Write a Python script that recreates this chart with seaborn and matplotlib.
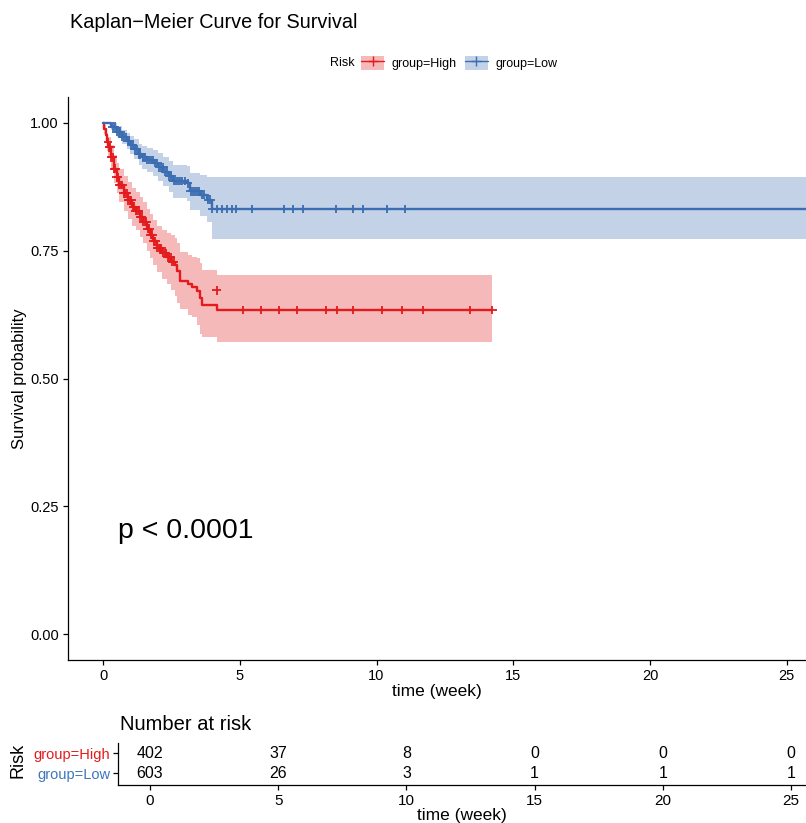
import numpy as np
import pandas as pd
import matplotlib
matplotlib.use("Agg")
import matplotlib.pyplot as plt
import seaborn as sns
from matplotlib.patches import Patch
from matplotlib.lines import Line2D

# ---------------- data ----------------
groups = ["group=High", "group=Low"]
line_colors = ["#E41A1C", "#3A6DB2"]
label_colors = ["#E41A1C", "#3F74BE"]

high_t = [0.0, 0.05, 0.1, 0.15, 0.2, 0.3, 0.4, 0.5, 0.6, 0.75, 0.9, 1.05, 1.2, 1.35, 1.47,
          1.6, 1.72, 1.84, 1.96, 2.15, 2.33, 2.5, 2.63, 2.72, 2.82, 3.12, 3.24, 3.42, 3.55,
          3.61, 4.15]
high_s = [1.0, 0.988, 0.975, 0.962, 0.952, 0.932, 0.91, 0.893, 0.878, 0.862, 0.848, 0.836,
          0.828, 0.816, 0.806, 0.793, 0.781, 0.768, 0.755, 0.745, 0.737, 0.728, 0.722, 0.710,
          0.690, 0.684, 0.678, 0.671, 0.658, 0.644, 0.634]
high_lo = [1.0, 0.978, 0.96, 0.945, 0.932, 0.908, 0.882, 0.862, 0.845, 0.828, 0.812, 0.798,
           0.79, 0.776, 0.764, 0.75, 0.735, 0.722, 0.708, 0.695, 0.685, 0.672, 0.661, 0.648,
           0.635, 0.625, 0.62, 0.605, 0.586, 0.582, 0.572]
high_hi = [1.0, 0.996, 0.99, 0.98, 0.972, 0.956, 0.936, 0.922, 0.91, 0.895, 0.883, 0.872,
           0.865, 0.854, 0.845, 0.832, 0.822, 0.81, 0.798, 0.79, 0.785, 0.78, 0.775, 0.765,
           0.748, 0.742, 0.738, 0.735, 0.725, 0.712, 0.702]
high_end = 14.23

low_t = [0.0, 0.3, 0.5, 0.7, 0.87, 1.0, 1.15, 1.3, 1.41, 1.6, 1.84, 2.0, 2.21, 2.4, 2.57,
         3.06, 3.18, 3.55, 3.79, 3.97]
low_s = [1.0, 0.992, 0.982, 0.972, 0.964, 0.956, 0.948, 0.938, 0.932, 0.927, 0.921, 0.913,
         0.904, 0.895, 0.886, 0.881, 0.866, 0.859, 0.849, 0.831]
low_lo = [1.0, 0.985, 0.972, 0.959, 0.949, 0.939, 0.929, 0.917, 0.91, 0.903, 0.896, 0.886,
          0.876, 0.865, 0.853, 0.847, 0.83, 0.818, 0.805, 0.773]
low_hi = [1.0, 0.999, 0.993, 0.986, 0.98, 0.974, 0.967, 0.959, 0.955, 0.951, 0.947, 0.94,
          0.933, 0.925, 0.918, 0.915, 0.902, 0.898, 0.893, 0.893]
low_end = 26.0

high_censor_t = [0.18, 0.22, 0.27, 0.31, 0.36, 0.41, 0.45, 0.5, 0.55, 0.6, 0.64, 0.7, 0.76,
                 0.82, 0.88, 0.93, 0.98, 1.04, 1.1, 1.15, 1.2, 1.26, 1.31, 1.37, 1.42, 1.48,
                 1.53, 1.58, 1.63, 1.69, 1.74, 1.8, 1.86, 1.91, 1.97, 2.03, 2.08, 2.13, 2.19,
                 2.25, 2.3, 2.36, 2.42, 2.47, 2.53, 2.58, 5.11, 5.77, 6.45, 7.1, 8.15, 8.54,
                 9.15, 10.21, 10.92, 11.71, 13.42, 14.23]
high_extra_censor_t = [4.16]
high_extra_censor_s = [0.672]
low_censor_t = [0.35, 0.42, 0.5, 0.57, 0.63, 0.7, 0.76, 0.83, 0.9, 0.96, 1.03, 1.1, 1.17,
                1.24, 1.3, 1.36, 1.45, 1.52, 1.6, 1.68, 1.75, 1.83, 1.9, 1.98, 2.05, 2.12,
                2.2, 2.28, 2.35, 2.42, 2.5, 2.58, 2.66, 2.74, 2.82, 2.9, 3.0, 3.1, 3.2, 3.28,
                3.36, 3.45, 3.5, 3.62, 3.7, 3.85, 3.92, 3.99, 4.16, 4.34, 4.52, 4.70, 4.88,
                5.44, 6.63, 6.96, 7.30, 8.51, 9.15, 9.52, 10.4, 11.04]

risk_times = [0, 5, 10, 15, 20, 25]
risk_high = [402, 37, 8, 0, 0, 0]
risk_low = [603, 26, 3, 1, 1, 1]

x_ticks = [0, 5, 10, 15, 20, 25]
y_ticks = [0.00, 0.25, 0.50, 0.75, 1.00]
y_ticklabels = ["0.00", "0.25", "0.50", "0.75", "1.00"]

# ---------------- style ----------------
sns.set_style("ticks")
plt.rcParams["font.family"] = ["Liberation Sans", "DejaVu Sans"]
plt.rcParams["text.color"] = "black"
plt.rcParams["axes.labelcolor"] = "black"
plt.rcParams["axes.linewidth"] = 0.9
plt.rcParams["xtick.major.width"] = 0.9
plt.rcParams["ytick.major.width"] = 0.9
plt.rcParams["xtick.major.size"] = 3.5
plt.rcParams["ytick.major.size"] = 3.5
plt.rcParams["xtick.color"] = "black"
plt.rcParams["ytick.color"] = "black"
plt.rcParams["xtick.labelcolor"] = "black"
plt.rcParams["ytick.labelcolor"] = "black"
plt.rcParams["axes.edgecolor"] = "black"

W, H = 806, 823
fig = plt.figure(figsize=(W / 100, H / 100), dpi=100)
ax = fig.add_axes([68 / W, (H - 660) / H, (W - 68) / W, (660 - 97) / H])
axt = fig.add_axes([118 / W, (H - 785) / H, (W - 118) / W, (785 - 743) / H])


def step_lookup(times, vals, t):
    times = np.asarray(times)
    vals = np.asarray(vals)
    idx = np.searchsorted(times, np.asarray(t), side="right") - 1
    return vals[idx]


curves = [
    (groups[0], high_t, high_s, high_lo, high_hi, high_end),
    (groups[1], low_t, low_s, low_lo, low_hi, low_end),
]

rows = []
for g, t, s, lo, hi, end in curves:
    tt = list(t) + [end]
    ss = list(s) + [s[-1]]
    ll = list(lo) + [lo[-1]]
    hh = list(hi) + [hi[-1]]
    for a, b, c, d in zip(tt, ss, ll, hh):
        rows.append({"time": a, "surv": b, "lower": c, "upper": d, "group": g})
df = pd.DataFrame(rows)

palette = dict(zip(groups, line_colors))

# confidence bands
for g in groups:
    sub = df[df["group"] == g]
    ax.fill_between(sub["time"], sub["lower"], sub["upper"], step="post",
                    color=palette[g], alpha=0.3, linewidth=0)

# survival curves
sns.lineplot(data=df, x="time", y="surv", hue="group", palette=palette,
             drawstyle="steps-post", estimator=None, sort=False, legend=False,
             linewidth=1.7, ax=ax)

# censor marks
cens_rows = []
for tc in high_censor_t:
    cens_rows.append({"time": tc, "surv": float(step_lookup(high_t, high_s, tc)), "group": groups[0]})
for tc, sc in zip(high_extra_censor_t, high_extra_censor_s):
    cens_rows.append({"time": tc, "surv": sc, "group": groups[0]})
for tc in low_censor_t:
    cens_rows.append({"time": tc, "surv": float(step_lookup(low_t, low_s, tc)), "group": groups[1]})
cdf = pd.DataFrame(cens_rows)
sns.scatterplot(data=cdf, x="time", y="surv", hue="group", palette=palette,
                marker="+", s=40, linewidth=1.3, legend=False, ax=ax, zorder=5)

ax.set_xlim(-1.28, 25.70)
ax.set_ylim(-0.05, 1.05)
ax.set_xticks(x_ticks)
ax.set_yticks(y_ticks)
ax.set_yticklabels(y_ticklabels)
ax.tick_params(labelsize=10.5, pad=3)
ax.set_xlabel("time (week)", fontsize=12.5, labelpad=1)
ax.set_ylabel("Survival probability", fontsize=12, labelpad=2)
sns.despine(ax=ax)

ax.text(0.55, 0.203, "p < 0.0001", fontsize=20.5, ha="left", va="center")

# title
fig.text(70 / W, 1 - 22 / H, "Kaplan\u2212Meier Curve for Survival", fontsize=14.3,
         ha="left", va="center")

# legend
fig.text(330 / W, 1 - 63 / H, "Risk", fontsize=9, ha="left", va="center")
handles = []
for g in groups:
    handles.append((Patch(facecolor=palette[g], alpha=0.3, edgecolor="none"),
                    Line2D([], [], color=palette[g], lw=1.0, marker="+",
                           markersize=7, markeredgewidth=1.0)))
leg = fig.legend(handles, groups, loc="center left",
                 bbox_to_anchor=(361 / W, 1 - 63 / H), ncol=2, frameon=False,
                 fontsize=9, handlelength=1.85, handleheight=1.45,
                 columnspacing=0.65, handletextpad=0.6, borderaxespad=0, borderpad=0)

# risk table
for g, vals, yy in [(groups[0], risk_high, 2), (groups[1], risk_low, 1)]:
    for tt, v in zip(risk_times, vals):
        axt.text(tt, yy, str(v), ha="center", va="center", fontsize=11.5)
axt.set_xlim(-1.25, 25.585)
axt.set_ylim(0.4, 2.5)
axt.set_xticks(x_ticks)
axt.set_yticks([2, 1])
axt.set_yticklabels(groups)
for lab, c in zip(axt.get_yticklabels(), label_colors):
    lab.set_color(c)
axt.tick_params(axis="y", labelsize=10.5, pad=2)
axt.tick_params(axis="x", labelsize=11, pad=3)
axt.set_xlabel("time (week)", fontsize=12.5, labelpad=0)
axt.set_ylabel("")
sns.despine(ax=axt)
fig.text(18 / W, 1 - 760 / H, "Risk", rotation=90, fontsize=13, ha="center", va="center")
fig.text(120 / W, 1 - 724 / H, "Number at risk", fontsize=14.5, ha="left", va="center")

fig.savefig("out.png", dpi=100)
